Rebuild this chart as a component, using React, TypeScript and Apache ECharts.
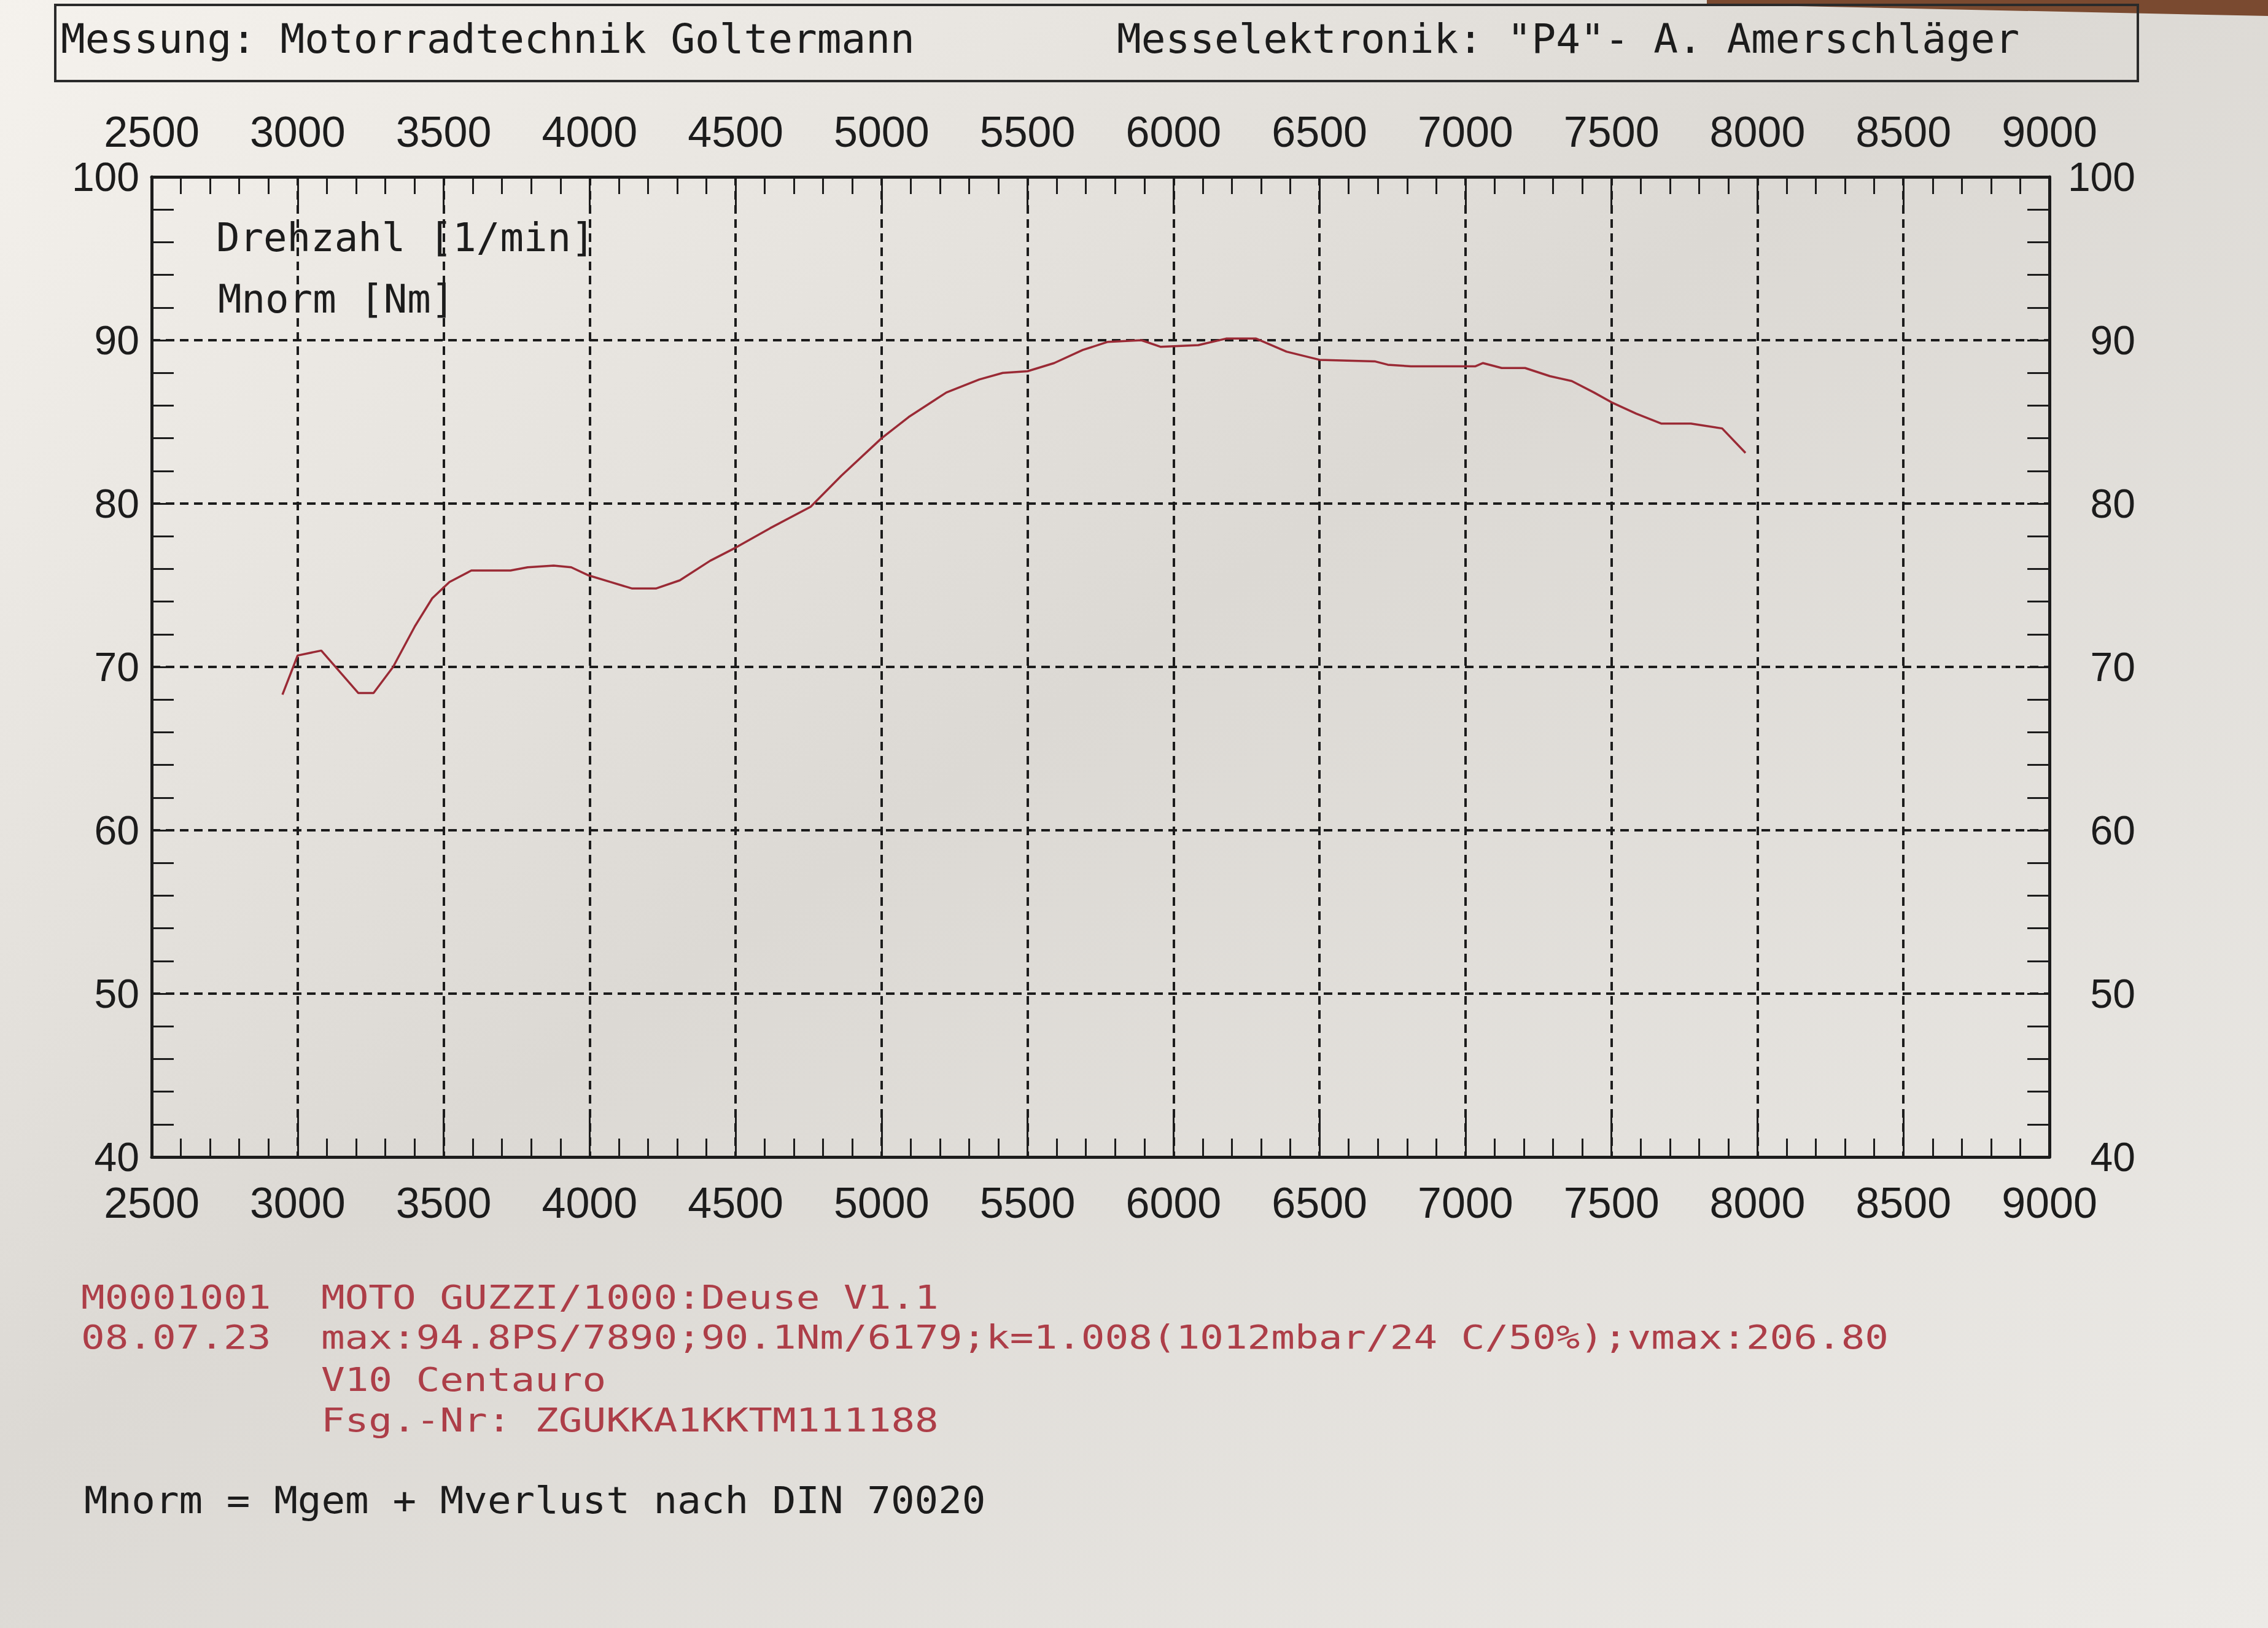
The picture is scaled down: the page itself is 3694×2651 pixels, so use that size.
import React, { useEffect, useRef } from "react";
import * as echarts from "echarts";

// Engine speed [1/min] and normalised torque Mnorm [Nm]
const rpm = [
  2948, 3000, 3081, 3208, 3260, 3327, 3402, 3461, 3520, 3595, 3729, 3788, 3877, 3937, 3997,
  4071, 4146, 4227, 4309, 4413, 4500, 4619, 4757, 4862, 5000, 5093, 5222, 5335, 5415, 5500,
  5591, 5689, 5775, 5890, 5955, 6085, 6180, 6283, 6387, 6500, 6691, 6734, 6813, 7033, 7060,
  7124, 7204, 7289, 7364, 7440, 7500, 7585, 7670, 7772, 7879, 7959,
];
const torque = [
  68.3, 70.7, 71.0, 68.4, 68.4, 70.0, 72.5, 74.2, 75.2, 75.9, 75.9, 76.1, 76.2, 76.1, 75.6,
  75.2, 74.8, 74.8, 75.3, 76.5, 77.3, 78.5, 79.8, 81.7, 84.0, 85.3, 86.8, 87.6, 88.0, 88.1,
  88.6, 89.4, 89.9, 90.0, 89.6, 89.7, 90.1, 90.1, 89.3, 88.8, 88.7, 88.5, 88.4, 88.4, 88.6,
  88.3, 88.3, 87.8, 87.5, 86.8, 86.2, 85.5, 84.9, 84.9, 84.6, 83.1,
];

const xMin = 2500;
const xMax = 9000;
const xStep = 500;
const yMin = 40;
const yMax = 100;
const yStep = 10;

const headerLeft = "Messung: Motorradtechnik Goltermann";
const headerRight = 'Messelektronik: "P4"- A. Amerschläger';
const legendLines = ["Drehzahl [1/min]", "Mnorm [Nm]"];
const infoCodes = ["M0001001", "08.07.23"];
const infoLines = [
  "MOTO GUZZI/1000:Deuse V1.1",
  "max:94.8PS/7890;90.1Nm/6179;k=1.008(1012mbar/24 C/50%);vmax:206.80",
  "V10 Centauro",
  "Fsg.-Nr: ZGUKKA1KKTM111188",
];
const footnote = "Mnorm = Mgem + Mverlust nach DIN 70020";

const W = 3694;
const H = 2651;
const MONO = "'DejaVu Sans Mono', 'Liberation Mono', monospace";
const SANS = "'Liberation Sans', Arial, sans-serif";
const INK = "#1c1c1c";
const RED_TEXT = "#ad3e48";
const RED_LINE = "#9a2a35";

export default function App() {
  const ref = useRef<HTMLDivElement>(null);

  useEffect(() => {
    if (!ref.current) return;
    const chart = echarts.init(ref.current, undefined, { renderer: "svg" });

    const axisLine = { show: true, lineStyle: { color: INK, width: 5 } };
    const xLabel = { fontFamily: SANS, fontSize: 70, color: INK, formatter: (v: number) => String(v) };
    const yLabel = { fontFamily: SANS, fontSize: 66, color: INK, formatter: (v: number) => String(v) };
    const dashed = { color: INK, width: 4, type: [14, 9] as number[] };

    // monospace text, horizontally stretched so glyph pitch matches the printout
    const monoText = (x: number, baseline: number, text: string, fill: string, fs: number, sx: number) => ({
      type: "text",
      x,
      y: baseline - fs * 0.36,
      scaleX: sx,
      silent: true,
      style: {
        x: 0,
        y: 0,
        text,
        fill,
        font: `${fs}px ${MONO}`,
        textAlign: "left",
        textVerticalAlign: "middle",
      },
    });

    const graphics: any[] = [
      {
        type: "rect",
        z: -10,
        silent: true,
        shape: { x: 0, y: 0, width: W, height: H },
        style: {
          fill: new echarts.graphic.LinearGradient(0, 0, 1, 1, [
            { offset: 0, color: "#f5f2ed" },
            { offset: 0.45, color: "#dcd9d4" },
            { offset: 1, color: "#eceae6" },
          ]),
        },
      },
      {
        type: "polygon",
        z: -9,
        silent: true,
        shape: { points: [[2780, 0], [W, 0], [W, 26], [2780, 7]] },
        style: { fill: "#7a4a30" },
      },
      {
        type: "rect",
        silent: true,
        shape: { x: 90, y: 8, width: 3392, height: 124 },
        style: { fill: "none", stroke: "#2a2a2a", lineWidth: 4 },
      },
      monoText(99, 87, headerLeft, INK, 66, 1),
      monoText(1819, 87, headerRight, INK, 66, 1),
      monoText(352, 410, legendLines[0], INK, 64, 1),
      monoText(355, 510, legendLines[1], INK, 64, 1),
      monoText(132, 2132, infoCodes[0], RED_TEXT, 54, 1.19),
      monoText(132, 2197, infoCodes[1], RED_TEXT, 54, 1.19),
      monoText(523, 2132, infoLines[0], RED_TEXT, 54, 1.19),
      monoText(523, 2197, infoLines[1], RED_TEXT, 54, 1.19),
      monoText(523, 2266, infoLines[2], RED_TEXT, 54, 1.19),
      monoText(523, 2332, infoLines[3], RED_TEXT, 54, 1.19),
      monoText(137, 2465, footnote, INK, 60, 1.07),
    ];

    chart.setOption({
      animation: false,
      grid: { left: 247, right: W - 3338, top: 288, bottom: H - 1884, containLabel: false },
      xAxis: [
        {
          type: "value",
          position: "bottom",
          min: xMin,
          max: xMax,
          interval: xStep,
          axisLine,
          axisTick: { show: true, inside: true, length: 70, lineStyle: { color: INK, width: 3 } },
          minorTick: { show: true, splitNumber: 5, length: 30, lineStyle: { color: INK, width: 3 } },
          splitLine: { show: true, lineStyle: dashed },
          axisLabel: { ...xLabel, margin: 40 },
        },
        {
          type: "value",
          position: "top",
          min: xMin,
          max: xMax,
          interval: xStep,
          axisLine,
          axisTick: { show: true, inside: true, length: 55, lineStyle: { color: INK, width: 3 } },
          minorTick: { show: true, splitNumber: 5, length: 28, lineStyle: { color: INK, width: 3 } },
          splitLine: { show: false },
          axisLabel: { ...xLabel, margin: 38 },
        },
      ],
      yAxis: [
        {
          type: "value",
          position: "left",
          min: yMin,
          max: yMax,
          interval: yStep,
          axisLine,
          axisTick: { show: true, inside: true, length: 36, lineStyle: { color: INK, width: 3 } },
          minorTick: { show: true, splitNumber: 5, length: 36, lineStyle: { color: INK, width: 3 } },
          splitLine: { show: true, lineStyle: dashed },
          axisLabel: { ...yLabel, margin: 20 },
        },
        {
          type: "value",
          position: "right",
          min: yMin,
          max: yMax,
          interval: yStep,
          axisLine,
          axisTick: { show: true, inside: true, length: 36, lineStyle: { color: INK, width: 3 } },
          minorTick: { show: true, splitNumber: 5, length: 36, lineStyle: { color: INK, width: 3 } },
          splitLine: { show: false },
          axisLabel: { ...yLabel, margin: 140, align: "right" },
        },
      ],
      series: [
        {
          name: "Mnorm [Nm]",
          type: "line",
          xAxisIndex: 0,
          yAxisIndex: 0,
          data: rpm.map((r, i) => [r, torque[i]]),
          showSymbol: false,
          symbol: "none",
          lineStyle: { color: RED_LINE, width: 3.5 },
          z: 5,
        },
      ],
      graphic: graphics,
    });

    return () => chart.dispose();
  }, []);

  return (
    <div
      ref={ref}
      style={{ position: "fixed", left: 0, top: 0, width: W, height: H }}
    />
  );
}
